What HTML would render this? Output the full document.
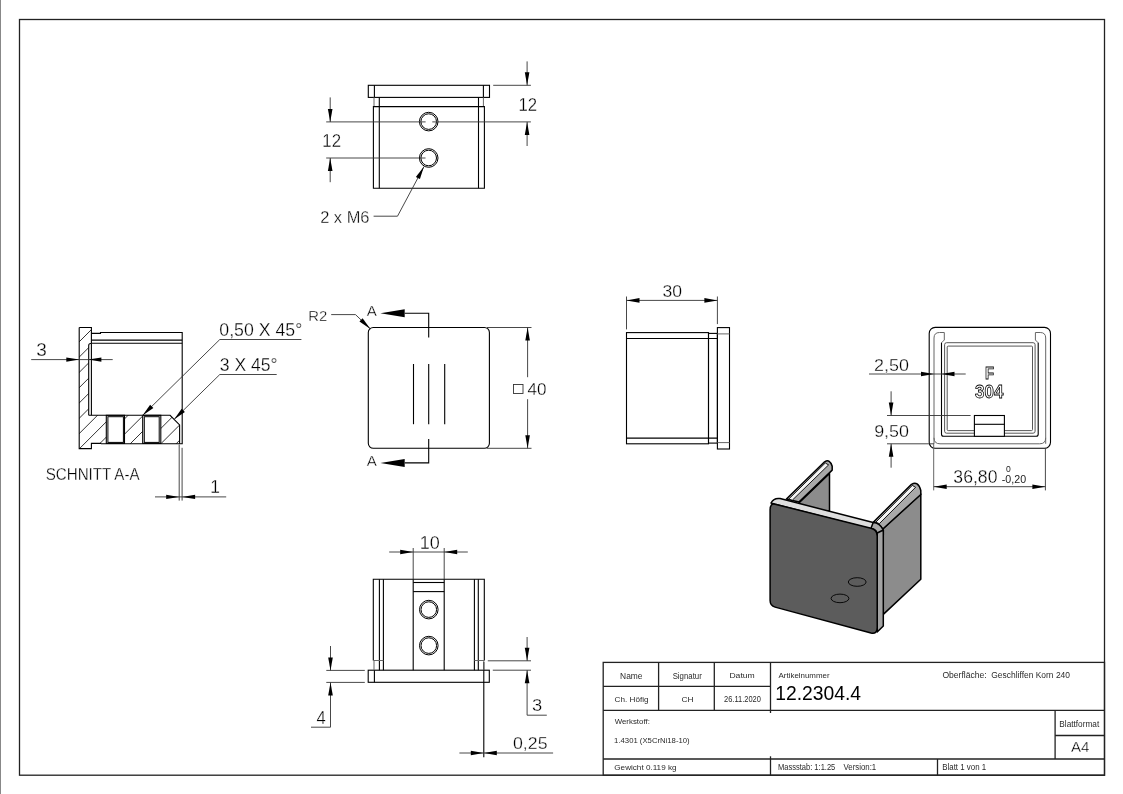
<!DOCTYPE html>
<html><head><meta charset="utf-8"><style>
html,body{margin:0;padding:0;background:#fff;width:1123px;height:794px;overflow:hidden}
svg{display:block;will-change:transform}
.o{fill:none;stroke:#000;stroke-width:1.1}
.ow{fill:#fff;stroke:#000;stroke-width:1.1}
.ot{fill:none;stroke:#000;stroke-width:1}
.g{fill:none;stroke:#666;stroke-width:1}
.g2{fill:none;stroke:#444;stroke-width:0.9}
.d{fill:none;stroke:#333;stroke-width:0.9}
.h{fill:none;stroke:#000;stroke-width:0.8}
.pe{stroke:#888;stroke-width:1}
.bd{fill:none;stroke:#222;stroke-width:1.3}
.tb{fill:none;stroke:#222;stroke-width:1.3}
.ar{stroke:none}
.tx{font-family:"Liberation Sans",sans-serif;fill:#000;stroke:#fff;stroke-width:0.3}
.ts{font-family:"Liberation Sans",sans-serif}
.txo{font-family:"Liberation Sans",sans-serif;font-weight:bold;fill:#fff;stroke:#000;stroke-width:0.8}
</style></head><body>
<svg width="1123" height="794" viewBox="0 0 1123 794">
<line class="pe" x1="0.5" y1="0" x2="0.5" y2="794"/>
<rect class="bd" x="19.5" y="19.5" width="1085.0" height="755.7"/>
<rect class="o" x="368.3" y="85.3" width="121.2" height="12.1"/>
<line class="o" x1="374.4" y1="85.3" x2="374.4" y2="97.4"/>
<line class="o" x1="483.4" y1="85.3" x2="483.4" y2="97.4"/>
<line class="g" x1="374" y1="97.4" x2="374" y2="106.6"/>
<line class="g" x1="483.4" y1="97.4" x2="483.4" y2="106.6"/>
<line class="o" x1="379.3" y1="97.4" x2="379.3" y2="188.2"/>
<line class="o" x1="478.5" y1="97.4" x2="478.5" y2="188.2"/>
<path class="o" d="M373.4,188.2V106.6H484.4V188.2Z" />
<circle class="ot" cx="428.7" cy="121.6" r="9.3"/>
<circle class="ot" cx="428.7" cy="121.6" r="7.8"/>
<circle class="ot" cx="428.7" cy="158" r="9.3"/>
<circle class="ot" cx="428.7" cy="158" r="7.8"/>
<line class="d" x1="493.2" y1="85.3" x2="530.9" y2="85.3"/>
<line class="d" x1="432.3" y1="121.9" x2="530.9" y2="121.9"/>
<line class="d" x1="326.2" y1="121.9" x2="425.6" y2="121.9"/>
<line class="d" x1="527.1" y1="61.4" x2="527.1" y2="85.3"/>
<path class="ar" fill="#000" d="M527.10,85.30L524.80,72.30L529.40,72.30Z"/>
<line class="d" x1="527.1" y1="121.9" x2="527.1" y2="146"/>
<path class="ar" fill="#000" d="M527.10,121.90L529.40,134.90L524.80,134.90Z"/>
<text class="tx" fill="#000" font-size="18.781" transform="translate(518.54,111.1) scale(0.8919,1)" >12</text>
<line class="d" x1="326.2" y1="158" x2="425.5" y2="158"/>
<line class="d" x1="330.2" y1="97.4" x2="330.2" y2="121.9"/>
<path class="ar" fill="#000" d="M330.20,121.90L327.90,108.90L332.50,108.90Z"/>
<line class="d" x1="330.2" y1="158" x2="330.2" y2="182.2"/>
<path class="ar" fill="#000" d="M330.20,158.00L332.50,171.00L327.90,171.00Z"/>
<text class="tx" fill="#000" font-size="17.491" transform="translate(322.34,147) scale(0.9635,1)" >12</text>
<path class="d" d="M424,166.5L397.5,216.2H373.6" />
<path class="ar" fill="#000" d="M424.00,166.50L419.91,179.05L415.85,176.89Z"/>
<text class="tx" fill="#000" font-size="16.631" transform="translate(320.18,223.2) scale(0.9885,1)" >2 x M6</text>
<clipPath id="hc"><path d="M79.2,327.5H91.4V343.5H88.7V415.3H170.1L179.6,424.9V443.7H101V443.4H91.4V448.6H79.2ZM106.3,415.3V443.4H124.5V415.3Z M142.7,415.3V443.4H160.8V415.3Z" clip-rule="evenodd"/></clipPath>
<path class="h" clip-path="url(#hc)" d="M90.39999999999998,300L-109.60000000000002,500 M105.69999999999999,300L-94.30000000000001,500 M121.0,300L-79.0,500 M136.3,300L-63.69999999999999,500 M151.60000000000002,300L-48.39999999999998,500 M166.89999999999998,300L-33.10000000000002,500 M182.2,300L-17.80000000000001,500 M197.5,300L-2.5,500 M212.79999999999995,300L12.799999999999955,500 M228.10000000000002,300L28.100000000000023,500 M243.39999999999998,300L43.39999999999998,500 M258.70000000000005,300L58.700000000000045,500 M274.0,300L74.0,500 M289.29999999999995,300L89.29999999999995,500 M304.6,300L104.60000000000002,500 M319.9,300L119.89999999999998,500 M335.20000000000005,300L135.20000000000005,500 M350.5,300L150.5,500 M365.79999999999995,300L165.79999999999995,500 M381.1,300L181.10000000000002,500 M396.4000000000001,300L196.4000000000001,500 M411.70000000000005,300L211.70000000000005,500"/>
<path class="o" d="M79.2,327.5H91.4V343.5" />
<path class="o" d="M79.2,327.5V448.6H91.4V443.4H101" />
<path class="o" d="M91.4,333.4H100.5V332.5H182.2V443.7H101" />
<line class="o" x1="91.4" y1="340.1" x2="182.2" y2="340.1"/>
<line class="o" x1="91.4" y1="343.3" x2="182.2" y2="343.3"/>
<path class="o" d="M88.7,415.3V345.5Q88.7,343.5 90.7,343.5H91.4" />
<line class="o" x1="91.4" y1="343.5" x2="91.4" y2="415.3"/>
<path class="o" d="M88.7,415.3H170.1L179.6,424.9V443.7" />
<rect class="o" x="106.3" y="415.3" width="18.2" height="28.1"/>
<rect class="ot" x="107.9" y="416.7" width="15.5" height="25.7"/>
<rect class="o" x="142.7" y="415.3" width="18.1" height="28.1"/>
<rect class="ot" x="144.3" y="416.7" width="14.9" height="25.7"/>
<line class="d" x1="31.2" y1="359.6" x2="112.7" y2="359.6"/>
<path class="ar" fill="#000" d="M79.30,359.60L66.30,361.80L66.30,357.40Z"/>
<path class="ar" fill="#000" d="M88.40,359.60L101.40,357.40L101.40,361.80Z"/>
<text class="tx" fill="#000" font-size="17.921" transform="translate(36.29,356.3) scale(1.0573,1)" >3</text>
<line class="d" x1="219.8" y1="339.5" x2="301.4" y2="339.5"/>
<line class="d" x1="219.8" y1="339.5" x2="142.5" y2="415.5"/>
<path class="ar" fill="#000" d="M142.50,415.50L150.16,404.75L153.38,408.03Z"/>
<line class="d" x1="219.8" y1="374.5" x2="276.7" y2="374.5"/>
<line class="d" x1="219.8" y1="374.5" x2="174" y2="419.5"/>
<path class="ar" fill="#000" d="M174.00,419.50L181.66,408.75L184.88,412.03Z"/>
<text class="tx" fill="#000" font-size="18.925" transform="translate(219.29,336.4) scale(0.9363,1)" >0,50 X 45°</text>
<text class="tx" fill="#000" font-size="18.638" transform="translate(219.74,371.1) scale(0.9428,1)" >3 X 45°</text>
<line class="d" x1="179.2" y1="444.5" x2="179.2" y2="500.6"/>
<line class="d" x1="182.1" y1="447.8" x2="182.1" y2="500.6"/>
<line class="d" x1="155" y1="496.9" x2="226.2" y2="496.9"/>
<path class="ar" fill="#000" d="M179.20,496.90L166.20,499.10L166.20,494.70Z"/>
<path class="ar" fill="#000" d="M182.10,496.90L195.10,494.70L195.10,499.10Z"/>
<text class="tx" fill="#000" font-size="17.455" transform="translate(210.37,493) scale(1.0000,1)" >1</text>
<text class="tx" fill="#000" font-size="17.204" transform="translate(45.72,480) scale(0.8798,1)" >SCHNITT A-A</text>
<rect class="o" x="368.3" y="327.5" width="121.1" height="120.8" rx="5"/>
<line class="o" x1="413.5" y1="364" x2="413.5" y2="424.2"/>
<line class="o" x1="428.7" y1="364" x2="428.7" y2="424.2"/>
<line class="o" x1="444.7" y1="364" x2="444.7" y2="424.2"/>
<path class="o" d="M428.7,337.4V313.3H404.7" />
<path class="o" d="M428.7,439V462.9H404.7" />
<path class="ar" fill="#000" d="M380.40,313.30L404.70,309.30L404.70,317.30Z"/>
<path class="ar" fill="#000" d="M380.40,462.90L404.70,458.90L404.70,466.90Z"/>
<text class="tx" fill="#000" font-size="15.418" transform="translate(366.66,316.2) scale(0.9790,1)" >A</text>
<text class="tx" fill="#000" font-size="14.109" transform="translate(366.66,466.3) scale(1.0698,1)" >A</text>
<path class="d" d="M331.2,314.6H355.5L370.4,328.9" />
<path class="ar" fill="#000" d="M370.40,328.90L359.43,321.56L362.61,318.24Z"/>
<text class="tx" fill="#000" font-size="14.337" transform="translate(308.18,320.6) scale(1.0356,1)" >R2</text>
<line class="d" x1="487" y1="327.5" x2="531.5" y2="327.5"/>
<line class="d" x1="487" y1="448.3" x2="531.5" y2="448.3"/>
<line class="d" x1="527.6" y1="327.5" x2="527.6" y2="377.2"/>
<line class="d" x1="527.6" y1="399.2" x2="527.6" y2="448.3"/>
<path class="ar" fill="#000" d="M527.60,327.50L529.90,340.50L525.30,340.50Z"/>
<path class="ar" fill="#000" d="M527.60,448.30L525.30,435.30L529.90,435.30Z"/>
<rect class="d" x="513.5" y="384.5" width="9.5" height="9.0"/>
<text class="tx" fill="#000" font-size="16.631" transform="translate(527.62,395) scale(1.0251,1)" >40</text>
<rect class="o" x="626.5" y="332.6" width="82.0" height="111.2"/>
<line class="o" x1="626.5" y1="338.5" x2="717.4" y2="338.5"/>
<line class="o" x1="626.5" y1="438.1" x2="717.4" y2="438.1"/>
<rect class="o" x="708.5" y="333.4" width="8.9" height="109.7"/>
<rect class="o" x="717.4" y="327.6" width="12.1" height="121.4"/>
<line class="g" x1="717.4" y1="333.9" x2="729.5" y2="333.9"/>
<line class="g" x1="717.4" y1="442.6" x2="729.5" y2="442.6"/>
<line class="d" x1="626.5" y1="296.5" x2="626.5" y2="329.4"/>
<line class="d" x1="717.4" y1="296.5" x2="717.4" y2="324.1"/>
<line class="d" x1="626.5" y1="300.4" x2="717.4" y2="300.4"/>
<path class="ar" fill="#000" d="M626.50,300.40L639.50,298.10L639.50,302.70Z"/>
<path class="ar" fill="#000" d="M717.40,300.40L704.40,302.70L704.40,298.10Z"/>
<text class="tx" fill="#000" font-size="16.201" transform="translate(662.54,296.5) scale(1.0854,1)" >30</text>
<rect class="o" x="929.2" y="327.4" width="121.3" height="120.9" rx="6"/>
<path class="g" d="M934,443.8V338Q934,332.5 939.5,332.5H944.3V340L941.5,342.8" />
<path class="g" d="M1045.7,443.8V338Q1045.7,332.5 1040.2,332.5H1035.4V340L1038.2,342.8" />
<path class="g" d="M940,443.8H1039.7" />
<path class="g" d="M934,437.8Q934,443.8 940,443.8M1045.7,437.8Q1045.7,443.8 1039.7,443.8" />
<path class="o" d="M941.5,342.8V434.3Q941.5,436.3 943.5,436.3H1036.2Q1038.2,436.3 1038.2,434.3V342.8" />
<rect class="g2" x="944.6" y="342.7" width="90.5" height="90.5" rx="2"/>
<rect class="g2" x="947.2" y="346.1" width="85.3" height="84.5" rx="1"/>
<rect class="ow" x="974.4" y="415.5" width="30.0" height="20.8"/>
<line class="o" x1="974.4" y1="424.3" x2="1004.4" y2="424.3"/>
<text class="txo" font-size="17.018" transform="translate(985.00,379) scale(0.8684,1)" >F</text>
<text class="txo" font-size="18.065" transform="translate(975.12,397.6) scale(0.9350,1)" >304</text>
<line class="d" x1="869" y1="374" x2="965.7" y2="374"/>
<path class="ar" fill="#000" d="M934.00,374.00L921.00,376.20L921.00,371.80Z"/>
<path class="ar" fill="#000" d="M941.50,374.00L954.50,371.80L954.50,376.20Z"/>
<text class="tx" fill="#000" font-size="17.061" transform="translate(874.10,370.8) scale(1.0508,1)" >2,50</text>
<line class="d" x1="887" y1="415.5" x2="970.6" y2="415.5"/>
<line class="d" x1="887" y1="443.8" x2="934" y2="443.8"/>
<line class="d" x1="891.1" y1="391.3" x2="891.1" y2="415.5"/>
<path class="ar" fill="#000" d="M891.10,415.50L888.80,402.50L893.40,402.50Z"/>
<line class="d" x1="891.1" y1="443.8" x2="891.1" y2="467.7"/>
<path class="ar" fill="#000" d="M891.10,443.80L893.40,456.80L888.80,456.80Z"/>
<text class="tx" fill="#000" font-size="16.918" transform="translate(874.15,436.6) scale(1.0583,1)" >9,50</text>
<line class="g" x1="933.7" y1="443.8" x2="933.7" y2="490.4"/>
<line class="d" x1="1045.4" y1="448.3" x2="1045.4" y2="490.4"/>
<line class="d" x1="933.7" y1="486.7" x2="1045.4" y2="486.7"/>
<path class="ar" fill="#000" d="M933.70,486.70L946.70,484.40L946.70,489.00Z"/>
<path class="ar" fill="#000" d="M1045.40,486.70L1032.40,489.00L1032.40,484.40Z"/>
<text class="tx" fill="#000" font-size="18.781" transform="translate(953.34,483.4) scale(0.9388,1)" >36,80</text>
<text class="ts" fill="#222" font-size="8.746" transform="translate(1005.96,471.8) scale(0.9818,1)" >0</text>
<text class="ts" fill="#222" font-size="10.036" transform="translate(1001.82,483) scale(1.0623,1)" >-0,20</text>
<rect class="o" x="368.2" y="670.2" width="121.1" height="12.1"/>
<line class="o" x1="374.4" y1="670.2" x2="374.4" y2="682.3"/>
<line class="o" x1="483.8" y1="662" x2="483.8" y2="757.2"/>
<path class="o" d="M373.3,660.5V579.3H484.3V660.5" />
<line class="g" x1="374" y1="660.5" x2="374" y2="670.2"/>
<line class="g" x1="483.8" y1="660.5" x2="483.8" y2="670.2"/>
<line class="o" x1="379.4" y1="579.3" x2="379.4" y2="670.2"/>
<line class="o" x1="383.4" y1="579.3" x2="383.4" y2="670.2"/>
<line class="o" x1="474.4" y1="579.3" x2="474.4" y2="670.2"/>
<line class="o" x1="478.3" y1="579.3" x2="478.3" y2="670.2"/>
<line class="g" x1="373.3" y1="660.5" x2="383.4" y2="660.5"/>
<line class="g" x1="474.4" y1="660.5" x2="484.3" y2="660.5"/>
<line class="o" x1="413.2" y1="579.3" x2="413.2" y2="670.2"/>
<line class="o" x1="444.2" y1="579.3" x2="444.2" y2="670.2"/>
<line class="o" x1="413.2" y1="582.5" x2="444.2" y2="582.5"/>
<line class="o" x1="413.2" y1="591.6" x2="444.2" y2="591.6"/>
<circle class="ot" cx="428.8" cy="609.6" r="9.3"/>
<circle class="ot" cx="428.8" cy="609.6" r="7.8"/>
<circle class="ot" cx="428.8" cy="645.6" r="9.3"/>
<circle class="ot" cx="428.8" cy="645.6" r="7.8"/>
<line class="d" x1="413.2" y1="548" x2="413.2" y2="579.3"/>
<line class="d" x1="444.2" y1="548" x2="444.2" y2="579.3"/>
<line class="d" x1="389.2" y1="552" x2="467.8" y2="552"/>
<path class="ar" fill="#000" d="M413.20,552.00L400.20,554.30L400.20,549.70Z"/>
<path class="ar" fill="#000" d="M444.20,552.00L457.20,549.70L457.20,554.30Z"/>
<text class="tx" fill="#000" font-size="18.208" transform="translate(419.65,549.2) scale(0.9911,1)" >10</text>
<line class="d" x1="326.3" y1="670.4" x2="364.8" y2="670.4"/>
<line class="d" x1="326.3" y1="682.4" x2="364.8" y2="682.4"/>
<line class="d" x1="330.5" y1="646" x2="330.5" y2="670.4"/>
<path class="ar" fill="#000" d="M330.50,670.40L328.20,657.40L332.80,657.40Z"/>
<path class="d" d="M330.5,682.4V727.2H311" />
<path class="ar" fill="#000" d="M330.50,682.40L332.80,695.40L328.20,695.40Z"/>
<text class="tx" fill="#000" font-size="17.745" transform="translate(316.53,723.9) scale(0.9373,1)" >4</text>
<line class="d" x1="487.8" y1="660.8" x2="531" y2="660.8"/>
<line class="d" x1="492.8" y1="670.2" x2="531" y2="670.2"/>
<line class="d" x1="527.1" y1="637" x2="527.1" y2="660.8"/>
<path class="ar" fill="#000" d="M527.10,660.80L524.80,647.80L529.40,647.80Z"/>
<path class="d" d="M527.1,670.2V715.2H546.8" />
<path class="ar" fill="#000" d="M527.10,670.20L529.40,683.20L524.80,683.20Z"/>
<text class="tx" fill="#000" font-size="16.631" transform="translate(531.91,711.1) scale(1.1013,1)" >3</text>
<line class="d" x1="459.4" y1="753" x2="553.1" y2="753"/>
<path class="ar" fill="#000" d="M483.80,753.00L470.80,755.20L470.80,750.80Z"/>
<path class="ar" fill="#000" d="M483.80,753.00L496.80,750.80L496.80,755.20Z"/>
<text class="tx" fill="#000" font-size="16.487" transform="translate(512.99,749.4) scale(1.0765,1)" >0,25</text>

<g stroke="#000" stroke-width="1.5" stroke-linejoin="round">
 <path fill="#8c8c8c" d="M798.9,503L829.5,473.5V511L798,509Z"/>
 <path fill="#a9a9a9" d="M786.4,499L824.6,461.8Q830,458.5 832.2,466.3V470.1L798.9,502Z"/>
 <path fill="#f4f4f4" stroke-width="0.9" d="M788.8,499L825.3,463L828.6,464.9L792.3,500.2Z"/>
 <path fill="#8c8c8c" d="M882.8,529L920.8,494V579.2L883.3,614.4Z"/>
 <path fill="#a9a9a9" d="M873.5,522L911.5,484.3Q918,480.5 920.8,490.5V494.5L882.8,529Q878,523 873.5,522Z"/>
 <path fill="#f4f4f4" stroke-width="0.9" d="M875.9,522.1L912.3,485.4L915.6,487.3L879.3,523.7Z"/>
 <path fill="#dedede" d="M771,503Q774,497.5 780.1,498.6L873.2,522.5L877.2,531L871,529L775.1,504.2Z"/>
 <path fill="#a8a8a8" d="M873.2,522.5Q880,523 883.3,530V535L877.2,535Q877.2,529.5 871,528.3Z"/>
 <path fill="#a3a3a3" d="M877.2,533L883.3,530V626L877.2,632Z"/>
 <path fill="#5c5c5c" d="M775.1,504.2L871,528.3Q877.2,529.8 877.2,536V627.5Q877.2,634.5 871,633L775.1,607.1Q770.1,605.7 770.1,600.5V510Q770.1,503 775.1,504.2Z"/>
 <ellipse cx="857.2" cy="582" rx="8.9" ry="4.3" fill="none" stroke-width="0.9"/>
 <ellipse cx="840" cy="598.4" rx="8.9" ry="4.3" fill="none" stroke-width="0.9"/>
</g>
<rect class="tb" x="603.2" y="662.4" width="501.3" height="112.8"/>
<line class="tb" x1="603.2" y1="686.4" x2="770.5" y2="686.4"/>
<line class="tb" x1="603.2" y1="710.3" x2="1104.5" y2="710.3"/>
<line class="tb" x1="603.2" y1="759" x2="1104.5" y2="759"/>
<line class="tb" x1="658.6" y1="662.4" x2="658.6" y2="710.3"/>
<line class="tb" x1="714.3" y1="662.4" x2="714.3" y2="710.3"/>
<line class="tb" x1="770.5" y1="662.4" x2="770.5" y2="713"/>
<line class="tb" x1="770.5" y1="756.3" x2="770.5" y2="775.2"/>
<line class="tb" x1="937.5" y1="759" x2="937.5" y2="775.2"/>
<line class="tb" x1="1055.1" y1="710.3" x2="1055.1" y2="759"/>
<line class="tb" x1="1055.1" y1="735.5" x2="1104.5" y2="735.5"/>
<text class="ts" fill="#2a2a2a" font-size="8.436" transform="translate(620.11,679.2) scale(0.9977,1)" >Name</text>
<text class="ts" fill="#2a2a2a" font-size="8.552" transform="translate(672.65,679.2) scale(0.9157,1)" >Signatur</text>
<text class="ts" fill="#2a2a2a" font-size="7.709" transform="translate(729.39,678.2) scale(1.1175,1)" >Datum</text>
<text class="ts" fill="#2a2a2a" font-size="7.310" transform="translate(614.59,702.2) scale(1.1166,1)" >Ch. Höfig</text>
<text class="ts" fill="#2a2a2a" font-size="7.599" transform="translate(681.58,702.2) scale(1.1030,1)" >CH</text>
<text class="ts" fill="#2a2a2a" font-size="8.746" transform="translate(724.03,702.1) scale(0.8571,1)" >26.11.2020</text>
<text class="ts" fill="#2a2a2a" font-size="7.310" transform="translate(778.58,678.2) scale(1.0854,1)" >Artikelnummer</text>
<text class="ts" fill="#000" font-size="20.215" transform="translate(775.15,700.1) scale(0.9563,1)" >12.2304.4</text>
<text class="ts" fill="#2a2a2a" font-size="8.690" transform="translate(942.39,678.3) scale(0.9902,1)" >Oberfläche:</text>
<text class="ts" fill="#2a2a2a" font-size="8.690" transform="translate(991.28,678.3) scale(0.9735,1)" >Geschliffen Korn 240</text>
<text class="ts" fill="#2a2a2a" font-size="8.000" transform="translate(614.66,724) scale(0.9868,1)" >Werkstoff:</text>
<text class="ts" fill="#2a2a2a" font-size="7.724" transform="translate(614.12,743) scale(0.9998,1)" >1.4301 (X5CrNi18-10)</text>
<text class="ts" fill="#2a2a2a" font-size="7.724" transform="translate(614.29,770) scale(1.0543,1)" >Gewicht 0.119 kg</text>
<text class="ts" fill="#2a2a2a" font-size="8.552" transform="translate(777.98,770.3) scale(0.8818,1)" >Massstab: 1:1.25</text>
<text class="ts" fill="#2a2a2a" font-size="8.552" transform="translate(843.46,770.3) scale(0.9207,1)" >Version:1</text>
<text class="ts" fill="#2a2a2a" font-size="8.552" transform="translate(942.25,770.3) scale(0.9243,1)" >Blatt 1 von 1</text>
<text class="ts" fill="#2a2a2a" font-size="8.276" transform="translate(1059.32,726.9) scale(0.9982,1)" >Blattformat</text>
<text class="tx" fill="#000" font-size="14.836" transform="translate(1070.96,751.5) scale(1.0174,1)" >A4</text>
</svg></body></html>
